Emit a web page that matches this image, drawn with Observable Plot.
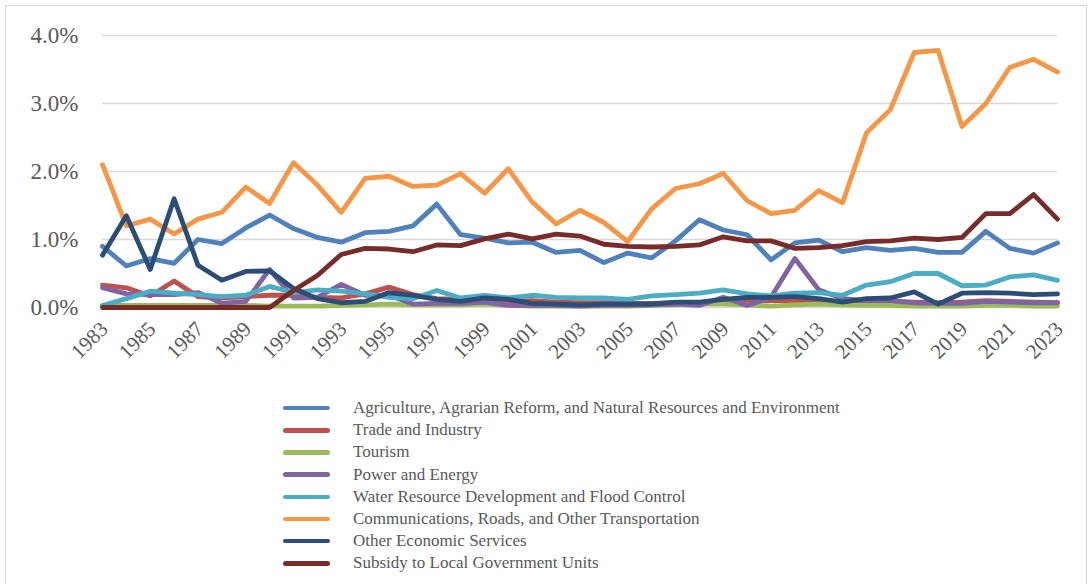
<!DOCTYPE html>
<html><head><meta charset="utf-8">
<script src="https://cdn.jsdelivr.net/npm/d3@7"></script>
<script src="https://cdn.jsdelivr.net/npm/@observablehq/plot@0.6"></script>
<style>
body{margin:0;background:#fff;font-family:"Liberation Serif",serif;}
#wrap{position:relative;width:1091px;height:584px;overflow:hidden;}
#frame{position:absolute;left:5px;top:5px;width:1082px;height:620px;border:1.5px solid #d9d9d9;box-sizing:border-box;}
#chart{position:absolute;left:0;top:0;}
#legend{position:absolute;left:283px;top:397px;}
.row{display:flex;align-items:center;height:22.2px;}
.sw{width:47px;height:4.5px;border-radius:2.5px;margin-right:23px;}
.lab{font-size:17px;color:#595959;white-space:nowrap;}
</style></head>
<body>
<div id="wrap"><div id="frame"></div><div id="chart"></div><div id="legend"></div></div>
<script>
const years = [1983,1984,1985,1986,1987,1988,1989,1990,1991,1992,1993,1994,1995,1996,1997,1998,1999,2000,2001,2002,2003,2004,2005,2006,2007,2008,2009,2010,2011,2012,2013,2014,2015,2016,2017,2018,2019,2020,2021,2022,2023];
const tickYears = [1983,1985,1987,1989,1991,1993,1995,1997,1999,2001,2003,2005,2007,2009,2011,2013,2015,2017,2019,2021,2023];
const yTicks = [0,1,2,3,4];

const agriculture = [0.90,0.61,0.72,0.65,1.00,0.94,1.17,1.36,1.16,1.03, 0.96,1.10,1.12,1.20,1.52,1.07,1.02,0.95,0.96,0.81, 0.84,0.66,0.80,0.73,0.98,1.29,1.14,1.07,0.70,0.95, 0.99,0.82,0.88,0.84,0.87,0.81,0.81,1.12,0.87,0.80,0.95];
const trade = [0.33,0.29,0.17,0.39,0.16,0.14,0.16,0.18,0.18,0.15, 0.14,0.20,0.30,0.19,0.13,0.12,0.12,0.10,0.10,0.08, 0.07,0.07,0.06,0.06,0.07,0.07,0.08,0.09,0.10,0.10, 0.09,0.08,0.08,0.09,0.08,0.07,0.08,0.10,0.09,0.08,0.07];
const tourism = [0.03,0.03,0.03,0.03,0.03,0.03,0.03,0.02,0.02,0.02, 0.03,0.04,0.05,0.04,0.04,0.04,0.05,0.03,0.02,0.02, 0.02,0.02,0.02,0.03,0.04,0.05,0.05,0.04,0.02,0.04, 0.05,0.04,0.03,0.03,0.02,0.02,0.02,0.03,0.03,0.02,0.02];
const power = [0.29,0.20,0.19,0.19,0.22,0.06,0.09,0.56,0.14,0.15, 0.34,0.18,0.18,0.05,0.06,0.06,0.08,0.03,0.03,0.03, 0.02,0.03,0.03,0.04,0.05,0.03,0.15,0.03,0.15,0.72, 0.26,0.13,0.10,0.10,0.07,0.06,0.06,0.09,0.08,0.07,0.07];
const water = [0.03,0.13,0.24,0.21,0.19,0.16,0.18,0.31,0.22,0.26, 0.24,0.20,0.15,0.13,0.25,0.14,0.18,0.14,0.18,0.15, 0.14,0.14,0.12,0.17,0.19,0.21,0.26,0.20,0.17,0.21, 0.22,0.18,0.33,0.38,0.50,0.50,0.32,0.33,0.45,0.48,0.40];
const comms = [2.10,1.20,1.30,1.08,1.30,1.40,1.77,1.53,2.13,1.80, 1.40,1.90,1.93,1.78,1.80,1.97,1.68,2.04,1.55,1.23, 1.43,1.25,0.97,1.45,1.75,1.82,1.97,1.57,1.38,1.43, 1.72,1.54,2.57,2.91,3.75,3.78,2.66,3.00,3.53,3.65,3.46];
const other = [0.77,1.35,0.56,1.60,0.62,0.40,0.53,0.54,0.28,0.13, 0.07,0.09,0.22,0.18,0.12,0.09,0.14,0.12,0.06,0.05, 0.04,0.05,0.05,0.05,0.08,0.08,0.12,0.15,0.15,0.16, 0.13,0.08,0.13,0.14,0.23,0.05,0.21,0.22,0.21,0.19,0.20];
const subsidy = [0,0,0,0,0,0,0,0,0.25,0.47, 0.78,0.87,0.86,0.82,0.92,0.91,1.01,1.08,1.01,1.08, 1.05,0.93,0.90,0.89,0.90,0.92,1.04,0.98,0.98,0.87, 0.88,0.91,0.97,0.98,1.02,1.00,1.03,1.38,1.38,1.66,1.30];

const names = [
  "Agriculture, Agrarian Reform, and Natural Resources and Environment",
  "Trade and Industry",
  "Tourism",
  "Power and Energy",
  "Water Resource Development and Flood Control",
  "Communications, Roads, and Other Transportation",
  "Other Economic Services",
  "Subsidy to Local Government Units"
];
const colors = ["#4F81BD","#C0504D","#9BBB59","#8064A2","#4BACC6","#F79646","#2C4D75","#772C2A"];
const seriesValues = [agriculture, trade, tourism, power, water, comms, other, subsidy];

const rows = [];
names.forEach((n, k) => years.forEach((yr, i) => rows.push({year: yr, value: seriesValues[k][i], name: n})));

const chart = Plot.plot({
  width: 1091, height: 390,
  marginLeft: 102, marginRight: 34, marginTop: 35, marginBottom: 83,
  style: {background: "transparent", fontFamily: "'Liberation Serif', serif"},
  x: {domain: [1983, 2023], label: null},
  y: {domain: [0, 4], label: null},
  color: {domain: names, range: colors},
  marks: [
    Plot.gridY(yTicks, {stroke: "#d9d9d9", strokeOpacity: 1, strokeWidth: 1.5}),
    Plot.axisY(yTicks, {tickSize: 0, tickPadding: 24, tickFormat: d => d.toFixed(1) + "%", fontSize: 23, color: "#595959"}),
    Plot.axisX(tickYears, {tickSize: 0, tickPadding: 10, dy: 8, dx: 2, tickRotate: -45, tickFormat: d => String(d), fontSize: 21, color: "#595959"}),
    Plot.line(rows, {x: "year", y: "value", z: "name", stroke: "name", strokeWidth: 4.8, strokeLinejoin: "round", strokeLinecap: "round"})
  ]
});
document.getElementById("chart").appendChild(chart);

const leg = document.getElementById("legend");
names.forEach((n, k) => {
  const r = document.createElement("div"); r.className = "row";
  const s = document.createElement("div"); s.className = "sw"; s.style.background = colors[k];
  const t = document.createElement("span"); t.className = "lab"; t.textContent = n;
  r.appendChild(s); r.appendChild(t); leg.appendChild(r);
});
</script>
</body></html>
